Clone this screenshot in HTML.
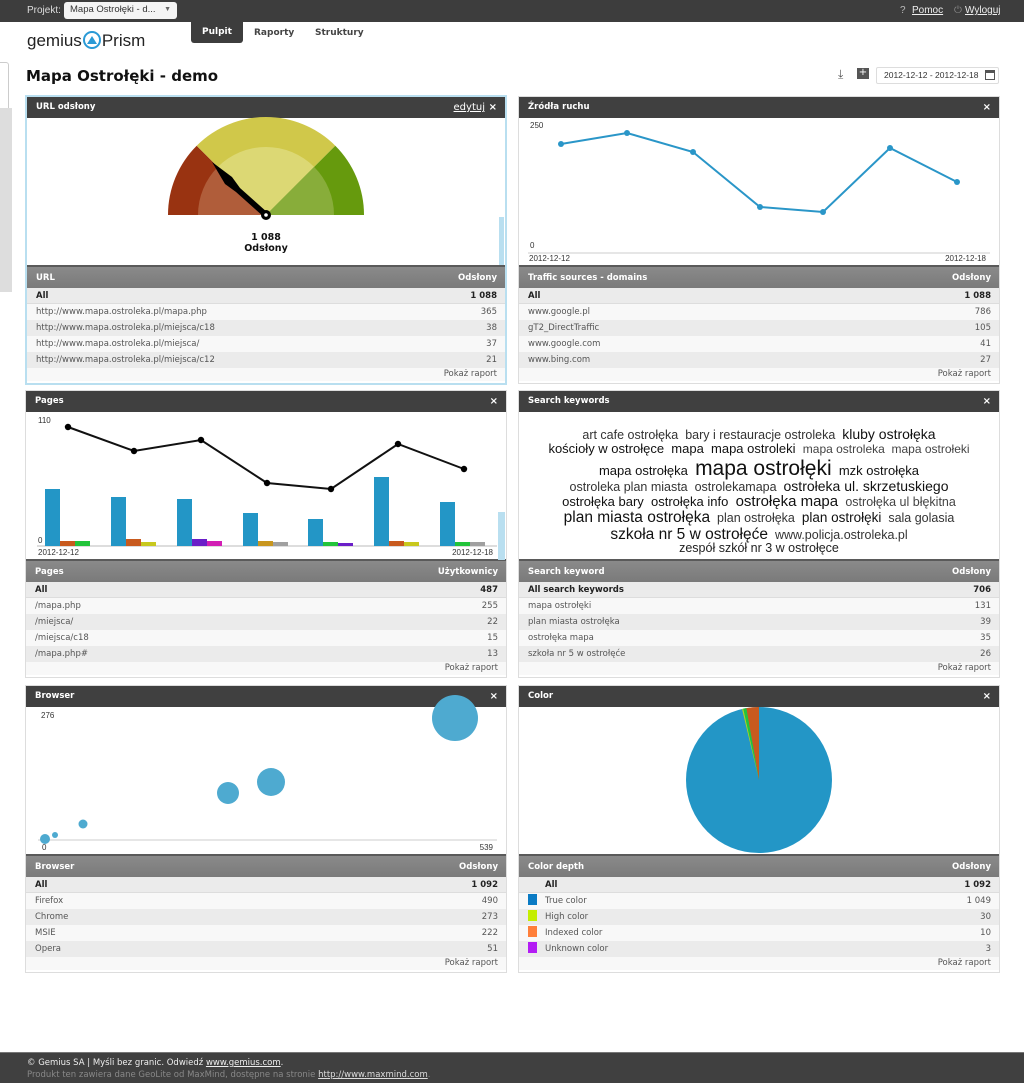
<!DOCTYPE html>
<html><head><meta charset="utf-8">
<style>
*{margin:0;padding:0;box-sizing:border-box}
body{width:1024px;height:1083px;position:relative;background:#fff;font-family:"DejaVu Sans","Liberation Sans",sans-serif;font-size:8.5px;color:#333;overflow:hidden}
.abs{position:absolute}
.topbar{left:0;top:0;width:1024px;height:22px;background:#3d3d3d;color:#ddd;font-family:"Liberation Sans",sans-serif;font-size:10px}
.panel{position:absolute;width:482px;height:288px;border:1px solid #ddd;background:#fff}
.panel.sel{border:2px solid #b9dff0}
.ph{height:21px;background:#404040;color:#fff;font-weight:bold;font-size:8.5px;line-height:21px;padding-left:9px;position:relative}
.ph .x{position:absolute;right:8px;top:0;font-size:10px}
.chart{height:147px}
.th{height:23px;background:linear-gradient(#8a8a8a,#7a7a7a);color:#fff;font-weight:bold;line-height:23px;padding:0 8px 0 9px;display:flex;justify-content:space-between;border-top:2px solid #5a5a5a}
.r{height:16px;line-height:16px;padding:0 8px 0 9px;display:flex;justify-content:space-between;color:#555}
.r.all{background:#ebebeb;color:#222;font-weight:bold;border-bottom:1px solid #ddd}
.r.o{background:#f8f8f8}.r.e{background:#ebebeb}
.pk{text-align:right;padding-right:8px;height:13px;line-height:12px;color:#555;background:#f8f8f8}
.wc{font-family:"Liberation Sans",sans-serif;color:#222;text-align:center;white-space:nowrap}
.wc div{line-height:1}
.sw{display:inline-block;width:9px;height:11px;margin-right:8px;vertical-align:-2px}
</style></head><body>
<div class="abs topbar">
 <span class="abs" style="left:27px;top:5px">Projekt:</span>
 <div class="abs" style="left:64px;top:2px;width:113px;height:17px;background:#f4f4f4;border-radius:3px;color:#333;padding:2px 6px;font-size:9.5px">Mapa Ostrołęki - d... <span style="float:right;font-size:7px;color:#666;margin-top:2px">▼</span></div>
 <span class="abs" style="left:900px;top:5px;color:#bbb">?</span><span class="abs" style="left:912px;top:5px;text-decoration:underline;color:#eee">Pomoc</span>
 <span class="abs" style="left:954px;top:5px;color:#888">⏻</span><span class="abs" style="left:965px;top:5px;text-decoration:underline;color:#eee">Wyloguj</span>
</div>
<div class="abs" style="left:27px;top:31px;font-family:'Liberation Sans',sans-serif;font-size:17px;color:#222">gemius<span style="display:inline-block;width:18px;height:18px;border:2.5px solid #2a9ad6;border-radius:50%;vertical-align:-3px;margin:0 1px;position:relative"><span style="position:absolute;left:2px;top:3px;width:0;height:0;border-left:5px solid transparent;border-right:5px solid transparent;border-bottom:8px solid #2a9ad6"></span></span>Prism</div>
<div class="abs" style="left:191px;top:22px;width:52px;height:21px;background:#3d3d3d;color:#fff;font-weight:bold;font-size:9px;text-align:center;line-height:21px;border-radius:0 0 3px 3px">Pulpit</div>
<div class="abs" style="left:254px;top:28px;font-weight:bold;font-size:9px;color:#444">Raporty</div>
<div class="abs" style="left:315px;top:28px;font-weight:bold;font-size:9px;color:#444">Struktury</div>
<div class="abs" style="left:-4px;top:62px;width:13px;height:230px;border:1px solid #ccc;border-radius:3px;background:#fff"></div>
<div class="abs" style="left:0;top:108px;width:12px;height:184px;background:#ddd"></div>
<div class="abs" style="left:26px;top:67px;font-weight:bold;font-size:15px;color:#111">Mapa Ostrołęki - demo</div>
<div class="abs" style="left:838px;top:67px;font-size:12px;color:#555">⤓</div>
<div class="abs" style="left:857px;top:68px;width:12px;height:11px;background:#555;color:#fff;font-size:10px;line-height:10px;text-align:center">+</div>
<div class="abs" style="left:876px;top:67px;width:123px;height:17px;border:1px solid #ddd;border-radius:2px;font-family:'Liberation Sans',sans-serif;font-size:8.5px;color:#333;line-height:15px;padding-left:7px">2012-12-12 - 2012-12-18<span style="position:absolute;right:3px;top:2px;width:10px;height:10px;border:1px solid #555;border-top:3px solid #555"></span></div>

<!-- Panel 1 -->
<div class="panel sel" style="left:25px;top:95px;height:290px">
 <div class="ph">URL odsłony<span class="x" style="font-weight:normal;right:20px;text-decoration:underline">edytuj</span><span class="x">×</span></div>
 <div class="chart" style="text-align:center;padding-top:114px;font-weight:bold;color:#111;font-size:9.5px;line-height:11px">1 088<br>Odsłony</div>
 <div class="th"><span>URL</span><span>Odsłony</span></div>
 <div class="r all"><span>All</span><span>1 088</span></div>
 <div class="r o"><span>http://www.mapa.ostroleka.pl/mapa.php</span><span>365</span></div>
 <div class="r e"><span>http://www.mapa.ostroleka.pl/miejsca/c18</span><span>38</span></div>
 <div class="r o"><span>http://www.mapa.ostroleka.pl/miejsca/</span><span>37</span></div>
 <div class="r e"><span>http://www.mapa.ostroleka.pl/miejsca/c12</span><span>21</span></div>
 <div class="pk">Pokaż raport</div>
</div>
<!-- Panel 2 -->
<div class="panel" style="left:518px;top:96px">
 <div class="ph">Źródła ruchu<span class="x">×</span></div>
 <div class="chart"></div>
 <div class="th"><span>Traffic sources - domains</span><span>Odsłony</span></div>
 <div class="r all"><span>All</span><span>1 088</span></div>
 <div class="r o"><span>www.google.pl</span><span>786</span></div>
 <div class="r e"><span>gT2_DirectTraffic</span><span>105</span></div>
 <div class="r o"><span>www.google.com</span><span>41</span></div>
 <div class="r e"><span>www.bing.com</span><span>27</span></div>
 <div class="pk">Pokaż raport</div>
</div>
<!-- Panel 3 -->
<div class="panel" style="left:25px;top:390px">
 <div class="ph">Pages<span class="x">×</span></div>
 <div class="chart"></div>
 <div class="th"><span>Pages</span><span>Użytkownicy</span></div>
 <div class="r all"><span>All</span><span>487</span></div>
 <div class="r o"><span>/mapa.php</span><span>255</span></div>
 <div class="r e"><span>/miejsca/</span><span>22</span></div>
 <div class="r o"><span>/miejsca/c18</span><span>15</span></div>
 <div class="r e"><span>/mapa.php#</span><span>13</span></div>
 <div class="pk">Pokaż raport</div>
</div>
<!-- Panel 4 -->
<div class="panel" style="left:518px;top:390px">
 <div class="ph">Search keywords<span class="x">×</span></div>
 <div class="chart wc" style="padding-top:15px">
  <div style="font-size:12.5px;color:#333">art cafe ostrołęka&nbsp; bary i restauracje ostroleka&nbsp; <span style="font-size:14px;color:#111">kluby ostrołęka</span></div>
  <div style="font-size:13px;color:#111">kościoły w ostrołęce&nbsp; mapa&nbsp; mapa ostroleki&nbsp; <span style="font-size:12px;color:#444">mapa ostroleka&nbsp; mapa ostrołeki</span></div>
  <div style="font-size:13px;color:#111;margin-top:3px">mapa ostrołęka&nbsp; <span style="font-size:21px">mapa ostrołęki</span>&nbsp; mzk ostrołęka</div>
  <div style="font-size:12.5px;color:#333">ostroleka plan miasta&nbsp; ostrolekamapa&nbsp; <span style="font-size:14px;color:#111">ostrołeka ul. skrzetuskiego</span></div>
  <div style="font-size:13px;color:#111;margin-top:1px">ostrołęka bary&nbsp; ostrołęka info&nbsp; <span style="font-size:15px">ostrołęka mapa</span>&nbsp; <span style="font-size:12.5px;color:#444">ostrołęka ul błękitna</span></div>
  <div style="font-size:12.5px;color:#333;margin-top:1px"><span style="font-size:15.5px;color:#111">plan miasta ostrołęka</span>&nbsp; plan ostrołęka&nbsp; <span style="font-size:13.5px;color:#111">plan ostrołęki</span>&nbsp; sala golasia</div>
  <div style="font-size:12.5px;color:#333;margin-top:1px"><span style="font-size:15.5px;color:#111">szkoła nr 5 w ostrołęće</span>&nbsp; www.policja.ostroleka.pl</div>
  <div style="font-size:12.5px;color:#222">zespół szkół nr 3 w ostrołęce</div>
 </div>
 <div class="th"><span>Search keyword</span><span>Odsłony</span></div>
 <div class="r all"><span>All search keywords</span><span>706</span></div>
 <div class="r o"><span>mapa ostrołęki</span><span>131</span></div>
 <div class="r e"><span>plan miasta ostrołęka</span><span>39</span></div>
 <div class="r o"><span>ostrołęka mapa</span><span>35</span></div>
 <div class="r e"><span>szkoła nr 5 w ostrołęće</span><span>26</span></div>
 <div class="pk">Pokaż raport</div>
</div>
<!-- Panel 5 -->
<div class="panel" style="left:25px;top:685px">
 <div class="ph">Browser<span class="x">×</span></div>
 <div class="chart"></div>
 <div class="th"><span>Browser</span><span>Odsłony</span></div>
 <div class="r all"><span>All</span><span>1 092</span></div>
 <div class="r o"><span>Firefox</span><span>490</span></div>
 <div class="r e"><span>Chrome</span><span>273</span></div>
 <div class="r o"><span>MSIE</span><span>222</span></div>
 <div class="r e"><span>Opera</span><span>51</span></div>
 <div class="pk">Pokaż raport</div>
</div>
<!-- Panel 6 -->
<div class="panel" style="left:518px;top:685px">
 <div class="ph">Color<span class="x">×</span></div>
 <div class="chart"></div>
 <div class="th"><span>Color depth</span><span>Odsłony</span></div>
 <div class="r all"><span style="padding-left:17px">All</span><span>1 092</span></div>
 <div class="r o"><span><i class="sw" style="background:#0a7bc4"></i>True color</span><span>1 049</span></div>
 <div class="r e"><span><i class="sw" style="background:#c4ee00"></i>High color</span><span>30</span></div>
 <div class="r o"><span><i class="sw" style="background:#ff7f3a"></i>Indexed color</span><span>10</span></div>
 <div class="r e"><span><i class="sw" style="background:#b31cf4"></i>Unknown color</span><span>3</span></div>
 <div class="pk">Pokaż raport</div>
</div>

<svg class="abs" style="left:0;top:0" width="1024" height="1083" font-family="Liberation Sans, sans-serif" font-size="8">
 <path d="M266 215 L168 215 A98 98 0 0 1 196.7 145.7 Z" fill="#993311"/>
 <path d="M266 215 L196.7 145.7 A98 98 0 0 1 335.3 145.7 Z" fill="#d0c84a"/>
 <path d="M266 215 L335.3 145.7 A98 98 0 0 1 364 215 Z" fill="#669a0d"/>
 <path d="M266 215 L198 215 A68 68 0 0 1 217.9 166.9 Z" fill="#b05d3a"/>
 <path d="M266 215 L217.9 166.9 A68 68 0 0 1 314.1 166.9 Z" fill="#dcd874"/>
 <path d="M266 215 L314.1 166.9 A68 68 0 0 1 334 215 Z" fill="#88ad3a"/>
 <polygon points="212,162 232,177 240,188 268,213 264,217 236,192 225,184" fill="#000"/>
 <circle cx="266" cy="215" r="5" fill="#000"/><circle cx="266" cy="215" r="1.8" fill="#fff"/>
 <rect x="499" y="217" width="5" height="48" fill="#b9dff0"/>
 <text x="530" y="128" fill="#333">250</text><text x="530" y="248" fill="#333">0</text>
 <text x="529" y="261" fill="#333">2012-12-12</text><text x="986" y="261" fill="#333" text-anchor="end">2012-12-18</text>
 <line x1="528" y1="253" x2="990" y2="253" stroke="#ccc"/>
 <polyline points="561,144 627,133 693,152 760,207 823,212 890,148 957,182" fill="none" stroke="#2a96c8" stroke-width="2"/>
 <g fill="#2a96c8"><circle cx="561" cy="144" r="3"/><circle cx="627" cy="133" r="3"/><circle cx="693" cy="152" r="3"/><circle cx="760" cy="207" r="3"/><circle cx="823" cy="212" r="3"/><circle cx="890" cy="148" r="3"/><circle cx="957" cy="182" r="3"/></g>
 <text x="38" y="423" fill="#333">110</text><text x="38" y="543" fill="#333">0</text>
 <text x="38" y="555" fill="#333">2012-12-12</text><text x="493" y="555" fill="#333" text-anchor="end">2012-12-18</text>
 <line x1="37" y1="546" x2="497" y2="546" stroke="#ddd" stroke-width="2"/>
 <rect x="498" y="512" width="7" height="48" fill="#b9dff0"/>
 <g fill="#2396c6">
  <rect x="45" y="489" width="15" height="57"/><rect x="111" y="497" width="15" height="49"/><rect x="177" y="499" width="15" height="47"/><rect x="243" y="513" width="15" height="33"/><rect x="308" y="519" width="15" height="27"/><rect x="374" y="477" width="15" height="69"/><rect x="440" y="502" width="15" height="44"/>
 </g>
 <rect x="60" y="541" width="15" height="5" fill="#c85a1e"/><rect x="75" y="541" width="15" height="5" fill="#22c43a"/>
 <rect x="126" y="539" width="15" height="7" fill="#c85a1e"/><rect x="141" y="542" width="15" height="4" fill="#c8c81e"/>
 <rect x="192" y="539" width="15" height="7" fill="#6a1ec8"/><rect x="207" y="541" width="15" height="5" fill="#d21eb4"/>
 <rect x="258" y="541" width="15" height="5" fill="#c8961e"/><rect x="273" y="542" width="15" height="4" fill="#a0a0a0"/>
 <rect x="323" y="542" width="15" height="4" fill="#22c43a"/><rect x="338" y="543" width="15" height="3" fill="#6a1ec8"/>
 <rect x="389" y="541" width="15" height="5" fill="#c85a1e"/><rect x="404" y="542" width="15" height="4" fill="#c8c81e"/>
 <rect x="455" y="542" width="15" height="4" fill="#22c43a"/><rect x="470" y="542" width="15" height="4" fill="#a0a0a0"/>
 <polyline points="68,427 134,451 201,440 267,483 331,489 398,444 464,469" fill="none" stroke="#111" stroke-width="2"/>
 <g fill="#000"><circle cx="68" cy="427" r="3.2"/><circle cx="134" cy="451" r="3.2"/><circle cx="201" cy="440" r="3.2"/><circle cx="267" cy="483" r="3.2"/><circle cx="331" cy="489" r="3.2"/><circle cx="398" cy="444" r="3.2"/><circle cx="464" cy="469" r="3.2"/></g>
 <text x="41" y="718" fill="#333">276</text><text x="42" y="850" fill="#333">0</text><text x="493" y="850" fill="#333" text-anchor="end">539</text>
 <line x1="38" y1="840" x2="497" y2="840" stroke="#ccc"/>
 <g fill="#4eaad0"><circle cx="455" cy="718" r="23"/><circle cx="271" cy="782" r="14"/><circle cx="228" cy="793" r="11"/><circle cx="83" cy="824" r="4.5"/><circle cx="55" cy="835" r="3"/><circle cx="45" cy="839" r="5"/></g>
 <circle cx="759" cy="780" r="73" fill="#2396c6"/>
 <path d="M759 780 L759 707 A73 73 0 0 0 746.3 708.1 Z" fill="#c85a1e"/>
 <path d="M759 780 L746.3 708.1 A73 73 0 0 0 743.2 708.7 Z" fill="#22c43a"/>
 <path d="M759 780 L743.2 708.7 A73 73 0 0 0 742 709 Z" fill="#b4d21e"/>
</svg>

<div class="abs" style="left:0;top:1052px;width:1024px;height:31px;background:#404040;border-top:1px solid #777;font-size:8.5px">
 <div class="abs" style="left:27px;top:5px;color:#eee">© Gemius SA | Myśli bez granic. Odwiedź <u>www.gemius.com</u>.</div>
 <div class="abs" style="left:27px;top:17px;color:#888">Produkt ten zawiera dane GeoLite od MaxMind, dostępne na stronie <u style="color:#ddd">http://www.maxmind.com</u>.</div>
</div>
</body></html>
